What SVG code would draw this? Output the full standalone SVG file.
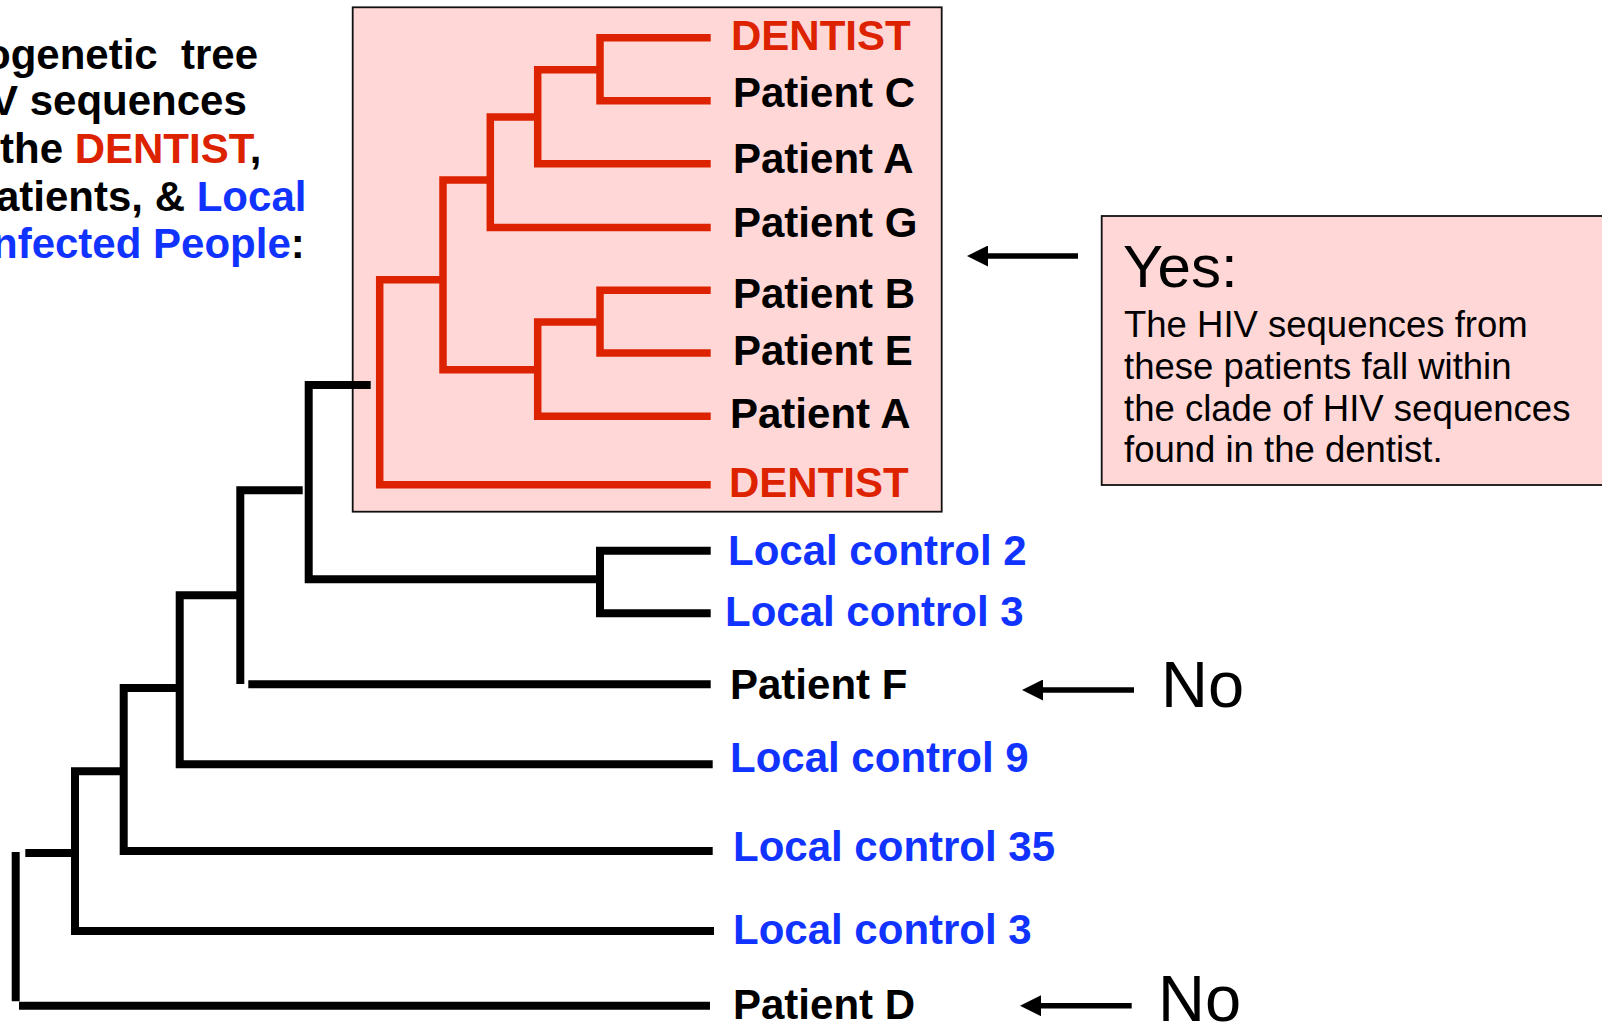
<svg xmlns="http://www.w3.org/2000/svg" width="1602" height="1024" viewBox="0 0 1602 1024">
<style>
  .lbl{font-family:"Liberation Sans",Arial,sans-serif;font-weight:bold;font-size:42px;}
  .red{fill:#DD2200;}
  .blk{fill:#000;}
  .blu{fill:#1133FF;}
  .reg{font-family:"Liberation Sans",Arial,sans-serif;font-weight:normal;fill:#000;}
  .rb{fill:none;stroke:#DD2200;stroke-width:7.5;stroke-linejoin:miter;stroke-linecap:butt;}
  .bb{fill:none;stroke:#000;stroke-width:8;stroke-linejoin:miter;stroke-linecap:butt;}
  .arr{fill:none;stroke:#000;stroke-width:5.5;}
  .box{fill:#FFD7D6;stroke:#111;stroke-width:1.8;}
</style>
<defs>
  <marker id="ah" markerUnits="userSpaceOnUse" markerWidth="21" markerHeight="21" viewBox="0 0 21 21" refX="1" refY="10.5" orient="auto">
    <path d="M0,0 L21,10.5 L0,21 Z" fill="#000"/>
  </marker>
</defs>
<rect width="1602" height="1024" fill="#fff"/>

<g id="title">
  <text class="lbl blk" y="69"><tspan x="-15">ogenetic </tspan><tspan x="181">tree</tspan></text>
  <text class="lbl blk" x="-10" y="115">V sequences</text>
  <text class="lbl blk" x="0" y="163">the <tspan class="red">DENTIST</tspan>,</text>
  <text class="lbl blk" x="-4" y="211">atients, &amp; <tspan class="blu">Local</tspan></text>
  <text class="lbl blk" x="-8" y="258"><tspan class="blu">nfected People</tspan>:</text>
</g>

<g id="clade-box">
  <rect class="box" x="352.7" y="7.3" width="589" height="504.4"/>
</g>

<g id="connectors">
  <!-- red clade -->
  <path class="rb" d="M710.7,37.7 H600 V100.7 H710.7"/>
  <path class="rb" d="M600,69.7 H537.7 V163.7 H710.7"/>
  <path class="rb" d="M537.7,117 H490.3 V227.5 H710.7"/>
  <path class="rb" d="M490.3,180 H443 V369.7 H537.7"/>
  <path class="rb" d="M710.7,290.3 H600 V353 H710.7"/>
  <path class="rb" d="M600,322 H537.7 V416.3 H710.7"/>
  <path class="rb" d="M443,279.7 H379.7 V484.7 H710.7"/>
  <!-- black tree -->
  <path class="bb" d="M370.7,385 H308.7 V579.3 H600"/>
  <path class="bb" d="M710.7,550.7 H600 V613.3 H710.7"/>
  <path class="bb" d="M302.7,490.3 H240.3 V684"/>
  <path class="bb" d="M248.3,684.3 H710.7"/>
  <path class="bb" d="M240.3,595.3 H179.7 V764.3 H712.7"/>
  <path class="bb" d="M179.7,688 H123.7 V851 H712.7"/>
  <path class="bb" d="M123.7,771.3 H75 V931 H714"/>
  <path class="bb" d="M25.3,853 H75"/>
  <path class="bb" d="M15.7,852 V1001.3"/>
  <path class="bb" d="M19,1005.7 H710"/>
  <!-- arrows -->
  <path class="arr" d="M1078,256 H987" marker-end="url(#ah)"/>
  <path class="arr" d="M1134,690 H1042" marker-end="url(#ah)"/>
  <path class="arr" d="M1131.7,1005.7 H1040" marker-end="url(#ah)"/>
</g>

<g id="leaf-dentist-1"><text class="lbl red" x="731" y="50">DENTIST</text></g>
<g id="leaf-patient-c"><text class="lbl blk" x="733" y="107">Patient C</text></g>
<g id="leaf-patient-a-1"><text class="lbl blk" x="733" y="173">Patient A</text></g>
<g id="leaf-patient-g"><text class="lbl blk" x="733" y="237">Patient G</text></g>
<g id="leaf-patient-b"><text class="lbl blk" x="733" y="308">Patient B</text></g>
<g id="leaf-patient-e"><text class="lbl blk" x="733" y="365">Patient E</text></g>
<g id="leaf-patient-a-2"><text class="lbl blk" x="730" y="428">Patient A</text></g>
<g id="leaf-dentist-2"><text class="lbl red" x="729" y="497">DENTIST</text></g>
<g id="leaf-lc2"><text class="lbl blu" x="728" y="565">Local control 2</text></g>
<g id="leaf-lc3a"><text class="lbl blu" x="725" y="626">Local control 3</text></g>
<g id="leaf-patient-f"><text class="lbl blk" x="730" y="699">Patient F</text></g>
<g id="leaf-lc9"><text class="lbl blu" x="730" y="772">Local control 9</text></g>
<g id="leaf-lc35"><text class="lbl blu" x="733" y="861">Local control 35</text></g>
<g id="leaf-lc3b"><text class="lbl blu" x="733" y="944">Local control 3</text></g>
<g id="leaf-patient-d"><text class="lbl blk" x="733" y="1019">Patient D</text></g>

<g id="yes-box">
  <rect class="box" x="1101.7" y="216" width="520" height="269"/>
  <text class="reg" x="1123" y="287" font-size="60">Yes:</text>
  <text class="reg" font-size="36.5">
    <tspan x="1124" y="337">The HIV sequences from</tspan>
    <tspan x="1124" y="379">these patients fall within</tspan>
    <tspan x="1124" y="421">the clade of HIV sequences</tspan>
    <tspan x="1124" y="462">found in the dentist.</tspan>
  </text>
</g>

<g id="no-1"><text class="reg" x="1161" y="707" font-size="65">No</text></g>
<g id="no-2"><text class="reg" x="1158" y="1021" font-size="65">No</text></g>
</svg>
